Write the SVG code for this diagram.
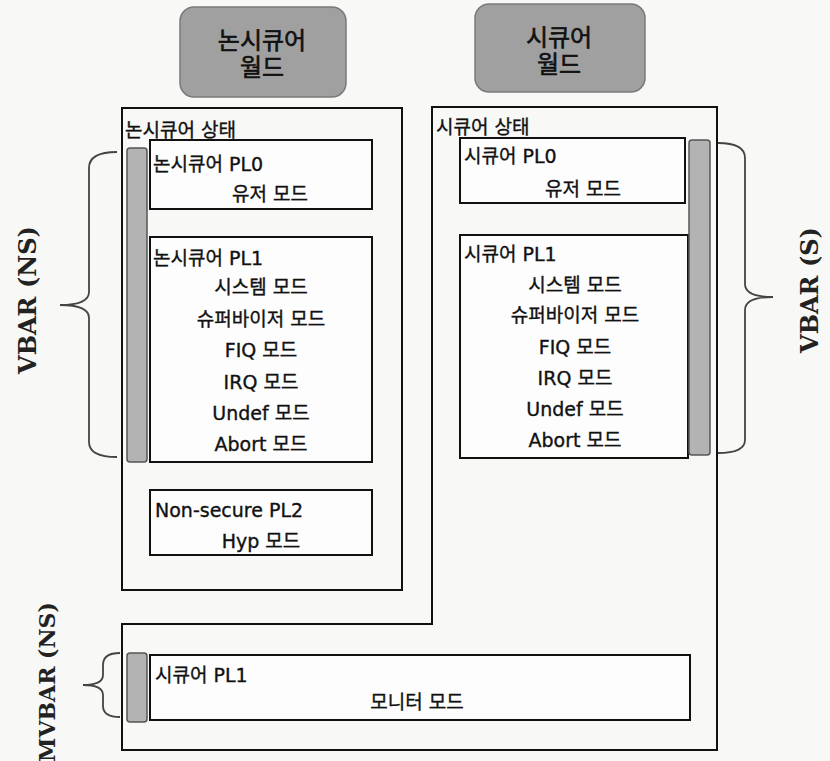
<svg xmlns="http://www.w3.org/2000/svg" width="830" height="761" viewBox="0 0 830 761">
<style>
.bg{fill:#f8f8f6}
.world{fill:#a0a0a0;stroke:#7a7a7a;stroke-width:1.5}
.wt{font-family:"DejaVu Sans","Noto Sans CJK KR",sans-serif;font-size:24px;fill:#111;stroke:#111;stroke-width:0.6;text-anchor:middle}
.state{fill:none;stroke:#111;stroke-width:2}
.box{fill:#fdfdfd;stroke:#111;stroke-width:2}
.bar{fill:#b3b3b3;stroke:#555;stroke-width:1.5}
.t{font-family:"DejaVu Sans","Noto Sans CJK KR",sans-serif;font-size:19px;fill:#111;stroke:#111;stroke-width:0.35}
.c{text-anchor:middle}
.brace{fill:none;stroke:#444;stroke-width:1.8}
.lbl{font-family:"DejaVu Serif","Liberation Serif",serif;font-weight:bold;font-size:24px;fill:#222;text-anchor:middle}
</style>
<rect class="bg" x="0" y="0" width="830" height="761"/>

<g id="nonsecure-world">
<rect class="world" x="180" y="7" width="166" height="90" rx="14"/>
<text class="wt" x="262" y="49">논시큐어</text>
<text class="wt" x="262" y="76">월드</text>
</g>
<g id="secure-world">
<rect class="world" x="475" y="4" width="170" height="88" rx="14"/>
<text class="wt" x="559" y="46">시큐어</text>
<text class="wt" x="559" y="73">월드</text>
</g>

<g id="nonsecure-state">
<rect class="state" x="122" y="108" width="280" height="482"/>
<text class="t" x="125" y="137">논시큐어 상태</text>
</g>
<g id="secure-state">
<path class="state" d="M432,107 L717,107 L717,750 L122,750 L122,624 L432,624 Z"/>
<text class="t" x="436" y="134">시큐어 상태</text>
</g>

<g id="ns-pl0">
<rect class="box" x="150" y="140" width="222" height="69"/>
<text class="t" x="153" y="171">논시큐어 PL0</text>
<text class="t c" x="270" y="201">유저 모드</text>
</g>
<g id="ns-pl1">
<rect class="box" x="150" y="237" width="222" height="225"/>
<text class="t" x="153" y="265">논시큐어 PL1</text>
<text class="t c" x="261" y="294">시스템 모드</text>
<text class="t c" x="261" y="326">슈퍼바이저 모드</text>
<text class="t c" x="261" y="357">FIQ 모드</text>
<text class="t c" x="261" y="389">IRQ 모드</text>
<text class="t c" x="261" y="420">Undef 모드</text>
<text class="t c" x="261" y="451">Abort 모드</text>
</g>
<g id="ns-pl2">
<rect class="box" x="150" y="490" width="222" height="65"/>
<text class="t" x="155" y="517">Non-secure PL2</text>
<text class="t c" x="261" y="548">Hyp 모드</text>
</g>

<g id="s-pl0">
<rect class="box" x="460" y="138" width="225" height="65"/>
<text class="t" x="464" y="163">시큐어 PL0</text>
<text class="t c" x="583" y="196">유저 모드</text>
</g>
<g id="s-pl1">
<rect class="box" x="460" y="235" width="228" height="223"/>
<text class="t" x="464" y="261">시큐어 PL1</text>
<text class="t c" x="575" y="292">시스템 모드</text>
<text class="t c" x="575" y="322">슈퍼바이저 모드</text>
<text class="t c" x="575" y="354">FIQ 모드</text>
<text class="t c" x="575" y="385">IRQ 모드</text>
<text class="t c" x="575" y="416">Undef 모드</text>
<text class="t c" x="575" y="447">Abort 모드</text>
</g>
<g id="monitor">
<rect class="box" x="150" y="655" width="540" height="65"/>
<text class="t" x="155" y="682">시큐어 PL1</text>
<text class="t c" x="417" y="709">모니터 모드</text>
</g>

<g id="bars">
<rect class="bar" x="127" y="148" width="20" height="314" rx="3"/>
<rect class="bar" x="689" y="140" width="21" height="315" rx="3"/>
<rect class="bar" x="127" y="653" width="20" height="69" rx="3"/>
</g>

<g id="connectors">
<path class="brace" d="M117,152 Q89,152 89,168 L89,292 Q89,305 60,305 Q89,305 89,318 L89,442 Q89,457 117,457"/>
<path class="brace" d="M718,143 Q745,143 745,158 L745,284 Q745,297 773,297 Q745,297 745,310 L745,440 Q745,453 718,453"/>
<path class="brace" d="M120,653 Q103,653 103,665 L103,675 Q103,685 83,685 Q103,685 103,695 L103,706 Q103,717 120,717"/>
</g>

<g id="labels">
<text class="lbl" transform="translate(36,300) rotate(-90)">VBAR (NS)</text>
<text class="lbl" transform="translate(818,290) rotate(-90)">VBAR (S)</text>
<text class="lbl" style="font-size:22px" transform="translate(55,682) rotate(-90)">MVBAR (NS)</text>
</g>
</svg>
